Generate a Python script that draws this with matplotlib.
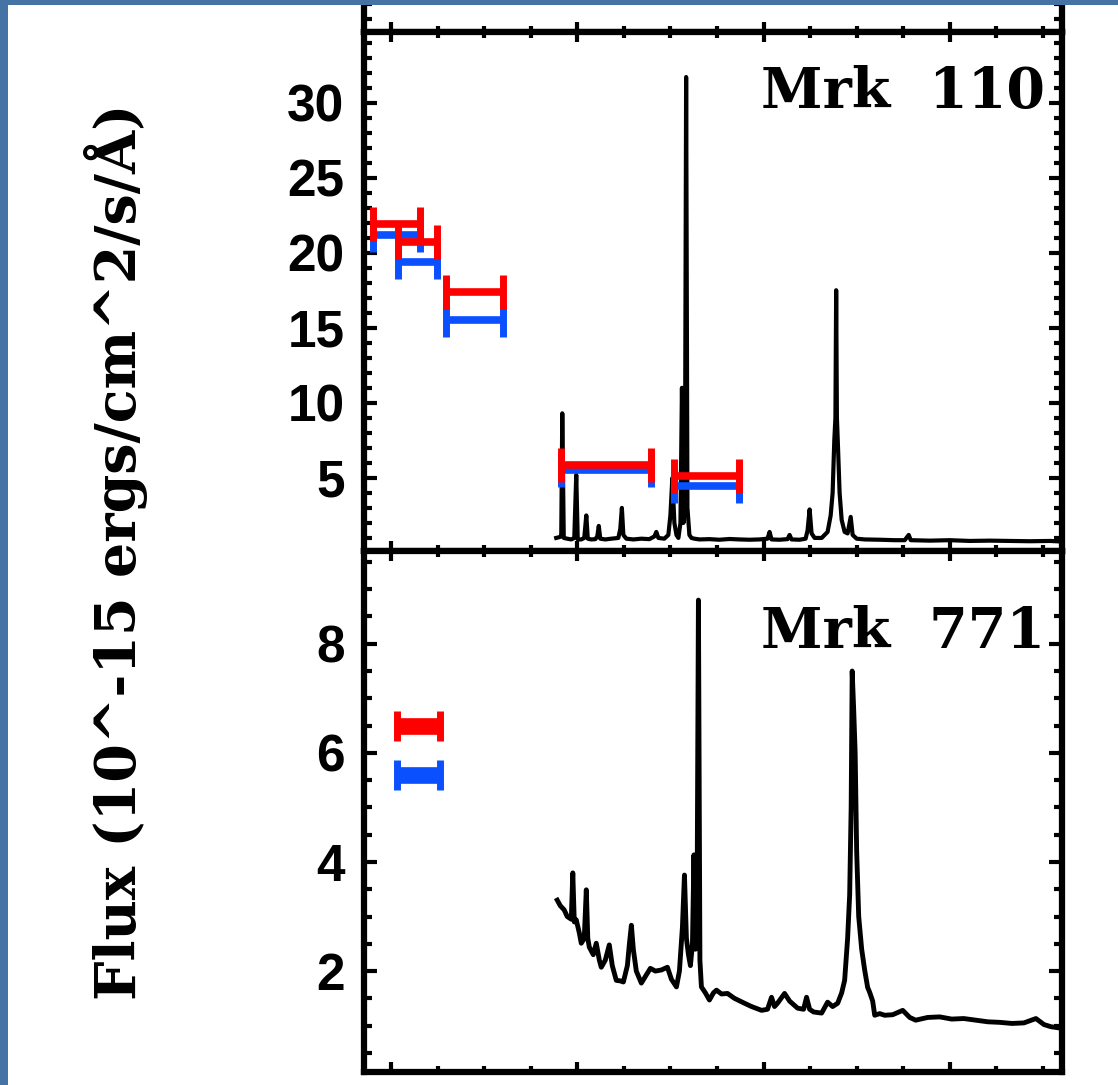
import matplotlib
matplotlib.use('Agg')
import matplotlib.pyplot as plt
from matplotlib.patches import Rectangle
from matplotlib.ticker import MultipleLocator, NullFormatter

plt.rcParams['font.family'] = ['Liberation Sans', 'DejaVu Sans']
plt.rcParams['font.weight'] = 'bold'

# Mrk 110 spectrum (wavelength in A, flux in 1e-15 erg/cm2/s/A)
wave_110 = [3774, 3806, 3828, 3839, 3855, 3892, 3936, 3968, 3989, 4005, 4043, 4075, 4097, 4113,
            4151, 4194, 4215, 4231, 4247, 4301, 4366, 4441, 4462, 4479, 4495, 4527, 4602, 4688,
            4774, 4828, 4849, 4871, 4935, 4978, 5000, 5021, 5043, 5065, 5086, 5108, 5124, 5140,
            5156, 5169, 5183, 5204, 5226, 5258, 5312, 5419, 5527, 5635, 5742, 5850, 5957, 6043,
            6065, 6086, 6172, 6258, 6280, 6301, 6387, 6452, 6473, 6495, 6516, 6549, 6624, 6688,
            6721, 6742, 6760, 6772, 6780, 6788, 6800, 6817, 6839, 6871, 6903, 6936, 6957, 7000,
            7086, 7247, 7409, 7516, 7559, 7581, 7785, 8000, 8215, 8430, 8645, 8860, 9075, 9205]
flux_110 = [1.0, 1.05, 1.1, 9.3, 1.0, 0.95, 0.9, 1.0, 5.2, 0.9, 0.9, 1.0, 2.5, 0.95,
            0.9, 0.92, 1.1, 1.8, 0.95, 0.9, 0.95, 1.0, 1.6, 3.0, 1.2, 0.95, 0.9, 0.95,
            0.92, 1.1, 1.4, 1.0, 0.95, 1.2, 2.5, 5.0, 2.0, 1.2, 1.0, 2.0, 11.0, 2.0,
            3.5, 31.7, 3.0, 1.2, 1.0, 0.95, 0.9, 0.92, 0.88, 0.93, 0.9, 0.88, 0.9, 0.95,
            1.4, 0.9, 0.88, 0.92, 1.2, 0.9, 0.88, 0.95, 1.5, 2.9, 1.3, 1.0, 1.0, 1.4,
            2.5, 4.0, 7.5, 9.0, 17.5, 9.0, 7.0, 4.0, 2.2, 1.4, 1.3, 2.4, 1.2, 0.95,
            0.9, 0.88, 0.85, 0.85, 1.2, 0.85, 0.82, 0.85, 0.8, 0.82, 0.8, 0.78, 0.8, 0.76]

# Mrk 771 spectrum
wave_771 = [3785, 3817, 3860, 3892, 3936, 3952, 3968, 3989, 4022, 4043, 4075, 4097, 4113, 4129,
            4172, 4204, 4237, 4258, 4301, 4344, 4376, 4419, 4462, 4495, 4538, 4560, 4581, 4602,
            4634, 4688, 4731, 4785, 4839, 4903, 4968, 5011, 5065, 5097, 5129, 5151, 5172, 5194,
            5215, 5237, 5253, 5269, 5285, 5301, 5317, 5333, 5376, 5419, 5462, 5495, 5549, 5613,
            5688, 5796, 5871, 5979, 6043, 6086, 6118, 6150, 6226, 6280, 6366, 6430, 6462, 6495,
            6538, 6624, 6688, 6742, 6796, 6839, 6871, 6903, 6925, 6941, 6952, 6968, 6984, 7000,
            7022, 7054, 7086, 7118, 7140, 7172, 7194, 7247, 7301, 7387, 7495, 7570, 7634, 7763,
            7892, 8021, 8150, 8280, 8409, 8538, 8667, 8796, 8925, 9011, 9086, 9205]
flux_771 = [3.30, 3.2, 3.12, 3.0, 2.95, 3.80, 2.9, 2.94, 2.7, 2.51, 2.6, 3.49, 2.6, 2.44,
            2.3, 2.51, 2.2, 2.07, 2.2, 2.48, 2.1, 1.83, 1.82, 1.80, 2.1, 2.5, 2.84, 2.4,
            2.0, 1.78, 1.9, 2.05, 2.0, 2.02, 2.07, 1.85, 1.71, 2.0, 2.8, 3.76, 2.6, 2.3,
            2.1, 2.5, 4.13, 2.4, 2.6, 8.8, 2.2, 1.71, 1.6, 1.47, 1.6, 1.65, 1.58, 1.59,
            1.5, 1.41, 1.35, 1.28, 1.3, 1.52, 1.35, 1.41, 1.59, 1.45, 1.32, 1.3, 1.52, 1.3,
            1.25, 1.23, 1.43, 1.35, 1.41, 1.6, 1.83, 2.6, 3.4, 5.0, 7.5, 6.8, 6.0, 4.2,
            3.0, 2.4, 2.02, 1.7, 1.61, 1.45, 1.19, 1.22, 1.19, 1.2, 1.28, 1.15, 1.10, 1.15,
            1.16, 1.12, 1.13, 1.1, 1.07, 1.06, 1.04, 1.05, 1.13, 1.02, 0.98, 0.95]

# photometry bands (centre, half width) and fluxes
band_110 = [2059, 2282, 2895, 4312, 5392]
halfw_110 = [253, 212, 309, 484, 349]
red_110 = [21.9, 20.7, 17.4, 5.87, 5.13]
blue_110 = [21.2, 19.4, 15.5, 5.53, 4.47]

band_771 = [2296]
halfw_771 = [231]
red_771 = [6.5]
blue_771 = [5.6]

RED = '#ff0000'
BLUE = '#0a50ff'
BORDER = '#4673a5'

fig = plt.figure(figsize=(11.18, 10.85), dpi=100)
W, H = 1118.0, 1085.0
left = 364 / W
width = 698 / W
ax_above = fig.add_axes([left, 1 - 32 / H, width, 519 / H])
ax_top = fig.add_axes([left, 1 - 551 / H, width, 519 / H])
ax_bot = fig.add_axes([left, 1 - 1072 / H, width, 521 / H])


def style(ax, ymaj, ymin):
    ax.set_xlim(1710, 9205)
    ax.xaxis.set_major_locator(MultipleLocator(2000))
    ax.xaxis.set_minor_locator(MultipleLocator(500))
    ax.yaxis.set_major_locator(MultipleLocator(ymaj))
    ax.yaxis.set_minor_locator(MultipleLocator(ymin))
    ax.xaxis.set_major_formatter(NullFormatter())
    for s in ax.spines.values():
        s.set_linewidth(4.5)
    ax.tick_params(axis='both', which='both', direction='in', top=True, right=True)
    ax.tick_params(axis='x', which='major', length=7.5, width=3)
    ax.tick_params(axis='x', which='minor', length=4, width=3)
    ax.tick_params(axis='y', which='major', length=9.5, width=3, labelsize=37, pad=14)
    ax.tick_params(axis='y', which='minor', length=5.5, width=3)


style(ax_above, 5, 1)
ax_above.set_ylim(0.13, 34.7)
ax_above.yaxis.set_major_formatter(NullFormatter())

style(ax_top, 5, 1)
ax_top.set_ylim(0.13, 34.7)
ax_top.set_yticks([5, 10, 15, 20, 25, 30])
ax_top.plot(wave_110, flux_110, color='black', lw=3)
ax_top.errorbar(band_110, blue_110, xerr=halfw_110, fmt='none', ecolor=BLUE,
                elinewidth=5.5, capsize=12, capthick=5)
ax_top.errorbar(band_110, red_110, xerr=halfw_110, fmt='none', ecolor=RED,
                elinewidth=5.5, capsize=12, capthick=5)
ax_top.text(0.976, 0.854, 'Mrk  110', transform=ax_top.transAxes, ha='right', va='baseline',
            fontsize=40, fontweight='bold', family='DejaVu Serif')

style(ax_bot, 2, 0.5)
ax_bot.set_ylim(0.15, 9.7)
ax_bot.set_yticks([2, 4, 6, 8])
ax_bot.plot(wave_771, flux_771, color='black', lw=3.5)
ax_bot.errorbar(band_771, blue_771, xerr=halfw_771, fmt='none', ecolor=BLUE,
                elinewidth=12, capsize=11, capthick=5)
ax_bot.errorbar(band_771, red_771, xerr=halfw_771, fmt='none', ecolor=RED,
                elinewidth=12, capsize=11, capthick=5)
ax_bot.text(0.976, 0.814, 'Mrk  771', transform=ax_bot.transAxes, ha='right', va='baseline',
            fontsize=40, fontweight='bold', family='DejaVu Serif')

fig.text(116 / W, 1 - 552 / H, 'Flux (10^-15 ergs/cm^2/s/Å)', rotation=90,
         ha='center', va='center', fontsize=40, fontweight='bold', family='DejaVu Serif')

fig.add_artist(Rectangle((0, 0), 8 / W, 1, transform=fig.transFigure,
                         facecolor=BORDER, edgecolor='none', zorder=10))
fig.add_artist(Rectangle((0, 1 - 5 / H), 1, 5 / H, transform=fig.transFigure,
                         facecolor=BORDER, edgecolor='none', zorder=10))

fig.savefig('out.png', dpi=100)
